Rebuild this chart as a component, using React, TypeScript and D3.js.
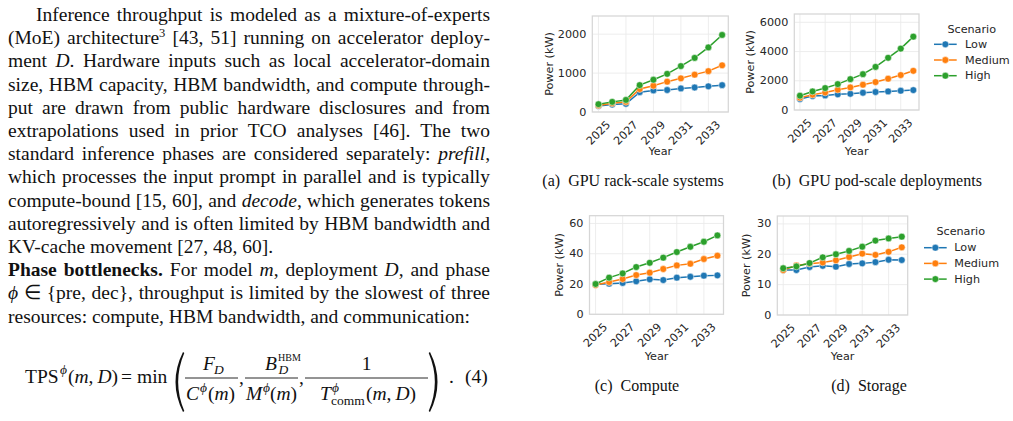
import { useEffect, useRef } from 'react';
import * as d3 from 'd3';

const years = [2025, 2026, 2027, 2028, 2029, 2030, 2031, 2032, 2033, 2034];
const xTickYears = [2025, 2027, 2029, 2031, 2033];
const scenarios = ['Low', 'Medium', 'High'];
const scenarioColors = ['#1f77b4', '#ff7f0e', '#2ca02c'];

// (a) GPU rack-scale systems, kW
const rackLow = [155, 190, 210, 510, 555, 565, 605, 630, 660, 690];
const rackMedium = [170, 225, 260, 590, 675, 780, 865, 960, 1050, 1200];
const rackHigh = [200, 260, 310, 690, 830, 980, 1180, 1390, 1660, 1980];
// (b) GPU pod-scale deployments, kW
const podLow = [750, 950, 1000, 1070, 1110, 1180, 1230, 1270, 1320, 1360];
const podMedium = [840, 1050, 1200, 1390, 1545, 1730, 1910, 2140, 2390, 2680];
const podHigh = [980, 1270, 1500, 1770, 2110, 2450, 2950, 3570, 4200, 5020];
// (c) Compute, kW
const computeLow = [19.8, 20.2, 20.7, 21.8, 23.1, 22.6, 24.2, 24.8, 25.5, 25.7];
const computeMedium = [19.3, 21.3, 23.3, 25.9, 27.5, 29.9, 32.3, 33.4, 36.5, 38.7];
const computeHigh = [20, 24.2, 27, 31.2, 34, 37.4, 41.1, 44.6, 47.9, 52.1];
// (d) Storage, kW
const storageLow = [14.8, 14.8, 15.8, 16.2, 15.9, 16.8, 17.0, 17.4, 18.2, 18.1];
const storageMedium = [14.8, 16.3, 16.9, 17.3, 18.0, 19.1, 20.2, 19.8, 20.8, 22.3];
const storageHigh = [15.4, 16.0, 17.1, 19.0, 20.0, 21.1, 22.5, 24.5, 25.2, 25.8];

const rackTicks = [0, 1000, 2000];
const podTicks = [0, 2000, 4000, 6000];
const computeTicks = [0, 20, 40, 60];
const storageTicks = [0, 10, 20, 30];

type Legend = { lineX: number; textX: number; titleX: number; titleY: number; y0: number; step: number };
type PanelSpec = {
  label: string; caption: string; series: number[][]; ticks: number[]; yMax: number;
  left: number; right: number; top: number; bottom: number;
  ylabelX: number; yearY: number; capX: number; capY: number; legend?: Legend;
};

const panels: PanelSpec[] = [
  { label: '(a)', caption: 'GPU rack-scale systems', series: [rackLow, rackMedium, rackHigh], ticks: rackTicks, yMax: 2467,
    left: 592.3, right: 728.3, top: 16, bottom: 112, ylabelX: 549, yearY: 151.7, capX: 633, capY: 186 },
  { label: '(b)', caption: 'GPU pod-scale deployments', series: [podLow, podMedium, podHigh], ticks: podTicks, yMax: 6568,
    left: 794.3, right: 919, top: 14, bottom: 110, ylabelX: 750.7, yearY: 151.7, capX: 877, capY: 186,
    legend: { lineX: 934, textX: 965, titleX: 971.7, titleY: 29, y0: 44.3, step: 15.7 } },
  { label: '(c)', caption: 'Compute', series: [computeLow, computeMedium, computeHigh], ticks: computeTicks, yMax: 65.1,
    left: 589.5, right: 723.5, top: 215.7, bottom: 314.3, ylabelX: 559.5, yearY: 356.7, capX: 637, capY: 391 },
  { label: '(d)', caption: 'Storage', series: [storageLow, storageMedium, storageHigh], ticks: storageTicks, yMax: 32.6,
    left: 777.3, right: 907.7, top: 216, bottom: 315, ylabelX: 746.2, yearY: 356.7, capX: 869, capY: 391,
    legend: { lineX: 924, textX: 954.3, titleX: 960.7, titleY: 231.7, y0: 247.7, step: 15.7 } },
];

// body text: [text, style]  style: '' roman, 'i' italic, 'b' bold, 's' superscript
type Seg = [string, string];
const bodyLines: { segs: Seg[]; x: number; justify: boolean }[] = [
  { x: 36, justify: true, segs: [['Inference throughput is modeled as a mixture-of-experts', '']] },
  { x: 8, justify: true, segs: [['(MoE) architecture', ''], ['3', 's'], [' [43, 51] running on accelerator deploy-', '']] },
  { x: 8, justify: true, segs: [['ment ', ''], ['D', 'i'], ['. Hardware inputs such as local accelerator-domain', '']] },
  { x: 8, justify: true, segs: [['size, HBM capacity, HBM bandwidth, and compute through-', '']] },
  { x: 8, justify: true, segs: [['put are drawn from public hardware disclosures and from', '']] },
  { x: 8, justify: true, segs: [['extrapolations used in prior TCO analyses [46]. The two', '']] },
  { x: 8, justify: true, segs: [['standard inference phases are considered separately: ', ''], ['prefill', 'i'], [',', '']] },
  { x: 8, justify: true, segs: [['which processes the input prompt in parallel and is typically', '']] },
  { x: 8, justify: true, segs: [['compute-bound [15, 60], and ', ''], ['decode', 'i'], [', which generates tokens', '']] },
  { x: 8, justify: true, segs: [['autoregressively and is often limited by HBM bandwidth and', '']] },
  { x: 8, justify: false, segs: [['KV-cache movement [27, 48, 60].', '']] },
  { x: 8, justify: true, segs: [['Phase bottlenecks.', 'b'], [' For model ', ''], ['m', 'i'], [', deployment ', ''], ['D', 'i'], [', and phase', '']] },
  { x: 8, justify: true, segs: [['ϕ', 'i'], [' ∈ {pre, dec}, throughput is limited by the slowest of three', '']] },
  { x: 8, justify: false, segs: [['resources: compute, HBM bandwidth, and communication:', '']] },
];

const SERIF = "'Liberation Serif', 'Times New Roman', serif";
const SANS = "'DejaVu Sans', sans-serif";
const TEXT_RIGHT = 490;

function Panel({ p }: { p: PanelSpec }) {
  const x = d3.scaleLinear().domain([years[0] - 0.45, years[years.length - 1] + 0.45]).range([p.left, p.right]);
  const y = d3.scaleLinear().domain([0, p.yMax]).range([p.bottom, p.top]);
  const line = d3.line<number>().x((_, i) => x(years[i])).y((d) => y(d));
  const midX = (p.left + p.right) / 2;
  const midY = (p.top + p.bottom) / 2;
  return (
    <g fontFamily={SANS} fontSize={11.2} fill="#262626">
      {xTickYears.map((t) => (
        <line key={'gx' + t} x1={x(t)} x2={x(t)} y1={p.top} y2={p.bottom} stroke="#ebebeb" strokeWidth={0.9} />
      ))}
      {p.ticks.map((t) => (
        <line key={'gy' + t} x1={p.left} x2={p.right} y1={y(t)} y2={y(t)} stroke="#ebebeb" strokeWidth={0.9} />
      ))}
      {p.series.map((s, k) => (
        <g key={k}>
          <path d={line(s) || ''} fill="none" stroke={scenarioColors[k]} strokeWidth={1.5} />
          {s.map((v, i) => (
            <circle key={i} cx={x(years[i])} cy={y(v)} r={3.4} fill={scenarioColors[k]} stroke="#fff" strokeWidth={0.5} />
          ))}
        </g>
      ))}
      <rect x={p.left} y={p.top} width={p.right - p.left} height={p.bottom - p.top} fill="none" stroke="#d6d6d6" strokeWidth={1.25} />
      {p.ticks.map((t) => (
        <text key={'ty' + t} x={p.left - 6} y={y(t)} textAnchor="end" dominantBaseline="central">{t}</text>
      ))}
      {xTickYears.map((t) => (
        <text key={'tx' + t} transform={`translate(${x(t)},${p.bottom + 21}) rotate(-45)`} textAnchor="middle" dominantBaseline="central">{t}</text>
      ))}
      <text transform={`translate(${p.ylabelX},${midY}) rotate(-90)`} textAnchor="middle" dominantBaseline="central">Power (kW)</text>
      <text x={midX} y={p.yearY} textAnchor="middle" dominantBaseline="central">Year</text>
      {p.legend && (
        <g>
          <text x={p.legend.titleX} y={p.legend.titleY} textAnchor="middle" dominantBaseline="central">Scenario</text>
          {scenarios.map((name, k) => {
            const ly = p.legend!.y0 + k * p.legend!.step;
            return (
              <g key={name}>
                <line x1={p.legend!.lineX} x2={p.legend!.lineX + 22.7} y1={ly} y2={ly} stroke={scenarioColors[k]} strokeWidth={1.5} />
                <circle cx={p.legend!.lineX + 11.35} cy={ly} r={3.4} fill={scenarioColors[k]} stroke="#fff" strokeWidth={0.5} />
                <text x={p.legend!.textX} y={ly} dominantBaseline="central">{name}</text>
              </g>
            );
          })}
        </g>
      )}
      <text x={p.capX} y={p.capY} textAnchor="middle" fontFamily={SERIF} fontSize={16} fill="#111">
        {p.label}{'\u2002'}{p.caption}
      </text>
    </g>
  );
}

function BodyText() {
  return (
    <g fontFamily={SERIF} fontSize={19.5} fill="#111">
      {bodyLines.map((ln, li) => {
        let prevSup = false;
        return (
          <text key={li} className={ln.justify ? 'just' : ''} data-w={TEXT_RIGHT - ln.x} x={ln.x} y={21 + li * 23.2} style={{ whiteSpace: 'pre' }}>
            {ln.segs.map(([t, s], si) => {
              const dy = s === 's' ? -7.5 : prevSup ? 7.5 : undefined;
              prevSup = s === 's';
              return (
                <tspan key={si} dy={dy} fontStyle={s === 'i' ? 'italic' : undefined} fontWeight={s === 'b' ? 'bold' : undefined} fontSize={s === 's' ? 12.5 : undefined}>
                  {t}
                </tspan>
              );
            })}
          </text>
        );
      })}
    </g>
  );
}

function Formula() {
  const base = 383;
  const num = 370;
  const den = 400;
  const bar = 378;
  const SS = 13.5;
  return (
    <g fontFamily={SERIF} fontSize={19.5} fill="#111" style={{ whiteSpace: 'pre' }}>
      <text x={25} y={base}>TPS</text>
      <text x={60} y={base - 9} fontSize={SS} fontStyle="italic">ϕ</text>
      <text x={68} y={base}>
        (<tspan fontStyle="italic">m</tspan>,{'\u2009'}<tspan fontStyle="italic">D</tspan>)
      </text>
      <text x={121} y={base}>=</text>
      <text x={137} y={base}>min</text>
      <path d="M183,352 Q168,382 183,412 L184.3,411 Q172,382 184.3,353 Z" fill="#111" />

      <line x1={185} x2={238} y1={bar} y2={bar} stroke="#111" strokeWidth={0.9} />
      <text x={203} y={num} fontStyle="italic">F</text>
      <text x={214} y={num + 4} fontSize={SS} fontStyle="italic">D</text>
      <text x={186} y={den} fontStyle="italic">C</text>
      <text x={200} y={den - 8} fontSize={SS} fontStyle="italic">ϕ</text>
      <text x={208} y={den}>
        (<tspan fontStyle="italic">m</tspan>)
      </text>
      <text x={239} y={base + 1}>,</text>

      <line x1={245} x2={298} y1={bar} y2={bar} stroke="#111" strokeWidth={0.9} />
      <text x={265} y={num} fontStyle="italic">B</text>
      <text x={278} y={num - 9.5} fontSize={10}>HBM</text>
      <text x={278.5} y={num + 4} fontSize={SS} fontStyle="italic">D</text>
      <text x={246} y={den} fontStyle="italic">M</text>
      <text x={263} y={den - 8} fontSize={SS} fontStyle="italic">ϕ</text>
      <text x={270} y={den}>
        (<tspan fontStyle="italic">m</tspan>)
      </text>
      <text x={299} y={base + 1}>,</text>

      <line x1={305} x2={428} y1={bar} y2={bar} stroke="#111" strokeWidth={0.9} />
      <text x={366.5} y={num} textAnchor="middle">1</text>
      <text x={320} y={den} fontStyle="italic">T</text>
      <text x={332} y={den - 8} fontSize={SS} fontStyle="italic">ϕ</text>
      <text x={331} y={den + 5} fontSize={SS}>comm</text>
      <text x={366} y={den}>
        (<tspan fontStyle="italic">m</tspan>,{'\u2009'}<tspan fontStyle="italic">D</tspan>)
      </text>

      <path d="M430,352 Q445,382 430,412 L428.7,411 Q441,382 428.7,353 Z" fill="#111" />
      <text x={449} y={base}>.</text>
      <text x={465} y={base}>(4)</text>
    </g>
  );
}

export default function App() {
  const svgRef = useRef<SVGSVGElement>(null);

  useEffect(() => {
    if (!svgRef.current) return;
    // justify body lines to the column width
    svgRef.current.querySelectorAll<SVGTextElement>('text.just').forEach((el) => {
      const target = Number(el.getAttribute('data-w'));
      const natural = el.getComputedTextLength();
      const spaces = (el.textContent || '').split(' ').length - 1;
      if (!spaces) return;
      el.style.wordSpacing = `${(target - natural) / spaces}px`;
      const w = el.getBBox().width;
      if (Math.abs(w - target) > 4) {
        el.style.wordSpacing = '';
        el.setAttribute('textLength', String(target));
        el.setAttribute('lengthAdjust', 'spacing');
      }
    });
  }, []);

  return (
    <div style={{ position: 'absolute', left: 0, top: 0 }}>
      <svg ref={svgRef} width={1013} height={421} style={{ display: 'block', background: '#fff' }}>
        <BodyText />
        <Formula />
        {panels.map((p) => (
          <Panel key={p.label} p={p} />
        ))}
      </svg>
    </div>
  );
}
